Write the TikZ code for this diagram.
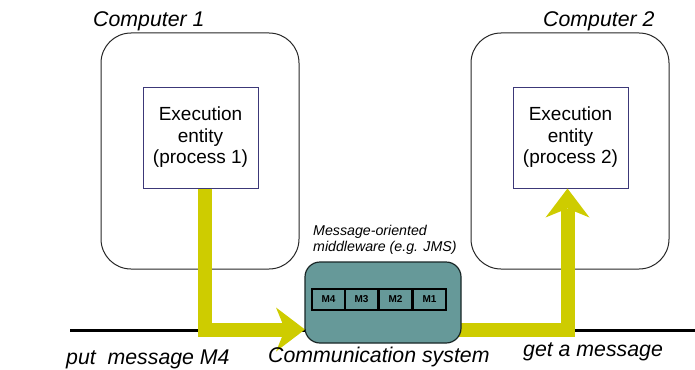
\documentclass[tikz,border=0pt]{standalone}
\usepackage{fontspec}
\setmainfont{Liberation Sans}
\usetikzlibrary{arrows.meta}
\definecolor{flowyellow}{RGB}{206,204,0}
\definecolor{mwteal}{RGB}{102,153,153}
\definecolor{procblue}{RGB}{60,56,120}
\tikzset{
  computer/.style={draw=black!85, line width=1pt, rounded corners=30pt,
    minimum width=198pt, minimum height=236pt, inner sep=0pt},
  process/.style={draw=procblue, line width=1pt, fill=white,
    minimum width=115pt, minimum height=101pt, inner sep=0pt,
    align=center, font=\fontsize{19}{21.5}\selectfont},
  middleware/.style={draw=black!75!mwteal, fill=mwteal, line width=1.2pt,
    rounded corners=15pt, minimum width=156pt, minimum height=81pt},
  msgcell/.style={draw=black, line width=1.3pt, minimum width=33pt,
    minimum height=21pt, inner sep=0pt, font=\fontsize{10}{10}\selectfont\bfseries},
  flow/.style={draw=flowyellow, line width=14pt, line join=miter,
    -{Stealth[length=29pt,width=44pt,inset=9pt,line width=0pt]}},
  bus/.style={draw=black, line width=3pt},
  tag/.style={anchor=base west, inner sep=0pt},
  bigtag/.style={tag, font=\fontsize{21.3}{24}\selectfont\itshape},
  smalltag/.style={tag, font=\fontsize{14.2}{16}\selectfont\itshape},
}
\begin{document}
\begin{tikzpicture}[x=1pt,y=-1pt]
  \useasboundingbox (0,0) rectangle (695,369);

  % the two computers and their processes
  \node[computer] (comp1) at (200,151) {};
  \node[computer] (comp2) at (570,151) {};
  \node[process] (p1) at (200.5,137.5) {Execution\\entity\\(process 1)};
  \node[process] (p2) at (570.5,137.5) {Execution\\entity\\(process 2)};

  % communication line
  \coordinate (busL) at (70,330);
  \coordinate (busR) at (695,330);
  \draw[bus] (busL) -- (busR);

  % message flow into and out of the middleware
  \coordinate (in1) at (305,329.5);
  \coordinate (out1) at (458,329.5);
  \draw[flow] ([xshift=4pt]p1.south) |- (in1);
  \draw[flow] (out1) -| ([xshift=-3pt]p2.south);

  % message-oriented middleware with its queue
  \node[middleware] (mw) at (383,302.5) {};
  \node[msgcell] (m4) at (328.5,299.5) {M4};
  \node[msgcell] (m3) at (361.5,299.5) {M3};
  \node[msgcell] (m2) at (395.5,299.5) {M2};
  \node[msgcell] (m1) at (429.5,299.5) {M1};

  % labels
  \node[bigtag] (c1lbl) at (93,26.5) {Computer 1};
  \node[bigtag] (c2lbl) at (543,26.5) {Computer 2};
  \node[smalltag] (mwlblA) at (313,235) {Message-oriented};
  \node[smalltag] (mwlblB) at (313,251) {middleware (e.g. JMS)};
  \node[bigtag] (putlbl) at (66,364) {put~~message M4};
  \node[bigtag] (commlbl) at (268,362) {Communication system};
  \node[bigtag] (getlbl) at (523,356) {get a message};
\end{tikzpicture}
\end{document}
